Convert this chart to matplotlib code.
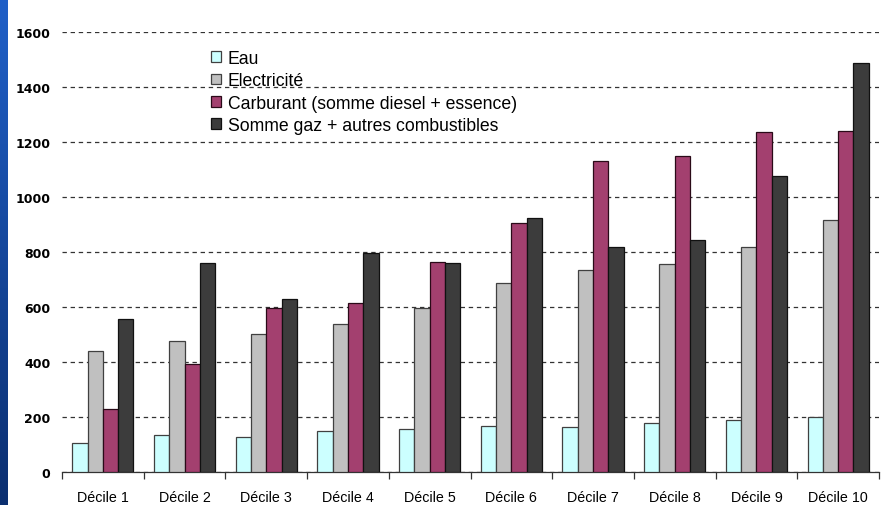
import matplotlib
matplotlib.use("Agg")
import matplotlib.pyplot as plt
import numpy as np
from matplotlib.ticker import FixedLocator, NullFormatter
from matplotlib.colors import LinearSegmentedColormap

categories = ["Décile 1", "Décile 2", "Décile 3", "Décile 4", "Décile 5",
              "Décile 6", "Décile 7", "Décile 8", "Décile 9", "Décile 10"]
series_names = ["Eau", "Electricité", "Carburant (somme diesel + essence)",
                "Somme gaz + autres combustibles"]
eau = [105, 133, 127, 148, 155, 168, 162, 178, 190, 200]
electricite = [440, 475, 502, 540, 595, 688, 735, 757, 818, 917]
carburant = [230, 393, 598, 615, 765, 905, 1132, 1148, 1235, 1240]
gaz = [555, 760, 630, 797, 760, 925, 818, 845, 1075, 1488]
yticks = [0, 200, 400, 600, 800, 1000, 1200, 1400, 1600]

colors = ["#CCFFFF", "#C0C0C0", "#A3406F", "#3C3C3C"]
edges = ["#404040", "#404040", "#2a0a18", "#111111"]

plt.rcParams['font.family'] = ['Liberation Sans', 'DejaVu Sans']

fig = plt.figure(figsize=(8.84, 5.06), dpi=100)
fig.patch.set_facecolor("white")

# blue strip on left
strip = fig.add_axes([0, 0, 8 / 884, 1])
grad = np.linspace(0, 1, 256).reshape(-1, 1)
cmap = LinearSegmentedColormap.from_list("b", ["#2060c8", "#0b2f70"])
strip.imshow(grad, aspect="auto", cmap=cmap, extent=[0, 1, 0, 1])
strip.set_axis_off()

ax = fig.add_axes([62 / 884, 1 - 473 / 506, (879 - 62) / 884, (473 - 33) / 506])
x = np.arange(len(categories))
w = 0.187
data = [eau, electricite, carburant, gaz]
for i, (vals, c, e, name) in enumerate(zip(data, colors, edges, series_names)):
    ax.bar(x + (i - 1.5) * w, vals, width=w, color=c, edgecolor=e,
           linewidth=0.9, label=name, zorder=3)

ax.set_xlim(-0.5, len(categories) - 0.5)
ax.set_ylim(0, 1600)
ax.set_yticks(yticks)
ax.set_yticklabels([str(v) for v in yticks], fontweight="bold", fontsize=9,
                   family="DejaVu Sans")
ax.yaxis.grid(True, linestyle=(0, (3.5, 3)), color="#333333", linewidth=0.9, zorder=0)
ax.set_axisbelow(True)
ax.tick_params(axis="y", length=0, pad=8.5)

ax.set_xticks(x)
ax.set_xticklabels(categories, fontsize=10.3)
ax.tick_params(axis="x", which="major", length=0, pad=13)
ax.xaxis.set_minor_locator(FixedLocator(np.arange(-0.5, len(categories), 1.0)))
ax.xaxis.set_minor_formatter(NullFormatter())
ax.tick_params(axis="x", which="minor", length=5, width=0.9, color="#333333")

for s in ["left", "right", "top"]:
    ax.spines[s].set_visible(False)
ax.spines["bottom"].set_color("#333333")
ax.spines["bottom"].set_linewidth(0.9)

leg = ax.legend(loc="upper left", bbox_to_anchor=(211 / 884, 1 - 51 / 506),
                bbox_transform=fig.transFigure, frameon=False, fontsize=12.7,
                handlelength=0.56, handleheight=0.56, handletextpad=0.4,
                labelspacing=0.3, borderpad=0, borderaxespad=0)

fig.savefig("out.png", dpi=100, facecolor="white")
